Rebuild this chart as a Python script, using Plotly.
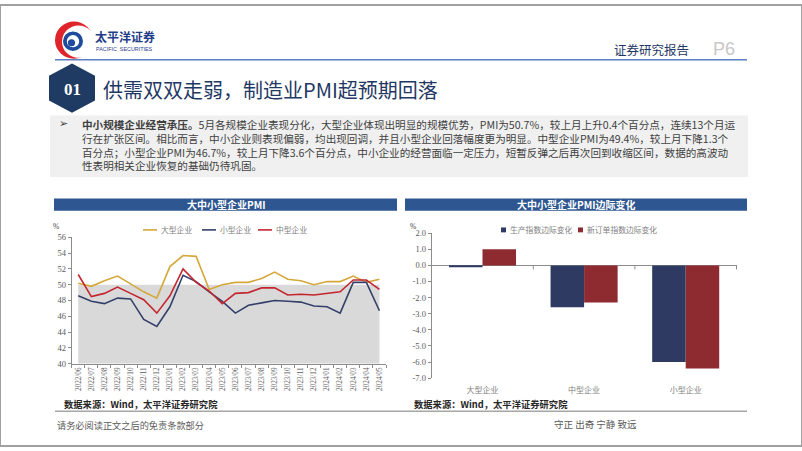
import plotly.graph_objects as go

W, H = 802, 451

def X(px):
    return px / W

def Y(py):
    return 1 - py / H

# ---------------- data ----------------
months = ["2022/06", "2022/07", "2022/08", "2022/09", "2022/10", "2022/11", "2022/12",
          "2023/01", "2023/02", "2023/03", "2023/04", "2023/05", "2023/06", "2023/07",
          "2023/08", "2023/09", "2023/10", "2023/11", "2023/12", "2024/01", "2024/02",
          "2024/03", "2024/04", "2024/05"]
large = [50.2, 49.8, 50.5, 51.1, 50.1, 49.1, 48.3, 52.3, 53.7, 53.6, 49.4, 50.0,
         50.3, 50.3, 50.8, 51.6, 50.7, 50.5, 50.0, 50.4, 50.4, 51.1, 50.3, 50.7]
small = [48.6, 47.9, 47.6, 48.3, 48.2, 45.6, 44.7, 47.2, 51.2, 50.4, 49.1, 47.9,
         46.4, 47.4, 47.7, 48.0, 47.9, 47.8, 47.3, 47.2, 46.4, 50.3, 50.3, 46.7]
medium = [51.3, 48.5, 48.9, 49.7, 48.9, 48.1, 46.4, 48.6, 52.0, 50.3, 49.2, 47.6,
          48.9, 49.0, 49.6, 49.6, 48.7, 48.8, 48.7, 48.9, 49.1, 50.6, 50.6, 49.4]
threshold = [50, 50, 50, 50, 50, 50, 50, 50, 50, 50, 50, 50,
             50, 50, 50, 50, 50, 50, 50, 50, 50, 50, 50, 50]
left_yticks = [40, 42, 44, 46, 48, 50, 52, 54, 56]

sizes = ["大型企业", "中型企业", "小型企业"]
production_chg = [-0.1, -2.6, -6.0]
new_order_chg = [1.0, -2.3, -6.4]
right_ytick_vals = [2, 1, 0, -1, -2, -3, -4, -5, -6, -7]
right_ytick_text = ["2.0", "1.0", "0.0", "-1.0", "-2.0", "-3.0", "-4.0", "-5.0", "-6.0", "-7.0"]

para_lines = [
    "<b>中小规模企业经营承压。</b>5月各规模企业表现分化，大型企业体现出明显的规模优势，PMI为50.7%，较上月上升0.4个百分点，连续13个月运",
    "行在扩张区间。相比而言，中小企业则表现偏弱，均出现回调，并且小型企业回落幅度更为明显。中型企业PMI为49.4%，较上月下降1.3个",
    "百分点；小型企业PMI为46.7%，较上月下降3.6个百分点，中小企业的经营面临一定压力，短暂反弹之后再次回到收缩区间，数据的高波动",
    "性表明相关企业恢复的基础仍待巩固。",
]

# ---------------- styles ----------------
C_LARGE = "#D4A83A"
C_SMALL = "#34406A"
C_MED = "#C42630"
C_BAR1 = "#2E3A62"
C_BAR2 = "#8E2B30"
C_BAND = "#2E5690"
C_NAVY = "#1F3864"
AX = "#8C8C8C"
TXT = "#595959"
CJK = "Noto Sans CJK SC"
SERIF = "Liberation Serif"

fig = go.Figure()

# left chart
fig.add_trace(go.Scatter(x=months, y=threshold, mode="lines", fill="tozeroy",
                         fillcolor="#D9D9D9", line=dict(width=0), showlegend=False,
                         hoverinfo="skip", xaxis="x", yaxis="y"))
for name, vals, col in [("大型企业", large, C_LARGE), ("小型企业", small, C_SMALL),
                        ("中型企业", medium, C_MED)]:
    fig.add_trace(go.Scatter(x=months, y=vals, mode="lines", name=name,
                             line=dict(color=col, width=1.6), showlegend=False,
                             xaxis="x", yaxis="y"))

# right chart
fig.add_trace(go.Bar(x=sizes, y=production_chg, name="生产指数边际变化",
                     marker=dict(color=C_BAR1, line=dict(width=0)), showlegend=False,
                     xaxis="x2", yaxis="y2"))
fig.add_trace(go.Bar(x=sizes, y=new_order_chg, name="新订单指数边际变化",
                     marker=dict(color=C_BAR2, line=dict(width=0)), showlegend=False,
                     xaxis="x2", yaxis="y2"))

shapes = []
ann = []

def rect(x0, y0, x1, y1, fill, line=None, lw=0):
    shapes.append(dict(type="rect", xref="paper", yref="paper", x0=X(x0), x1=X(x1),
                       y0=Y(y1), y1=Y(y0), fillcolor=fill,
                       line=dict(width=lw, color=line or fill), layer="below"))

def hline(x0, x1, y, color, w):
    shapes.append(dict(type="line", xref="paper", yref="paper", x0=X(x0), x1=X(x1),
                       y0=Y(y), y1=Y(y), line=dict(color=color, width=w)))

def circle(cx, cy, r, fill):
    shapes.append(dict(type="circle", xref="paper", yref="paper", x0=X(cx - r), x1=X(cx + r),
                       y0=Y(cy + r), y1=Y(cy - r), fillcolor=fill, line=dict(width=0)))

def text(x, y, s, size, color, family=CJK, xanchor="left", bold=False, yanchor="middle"):
    if bold:
        s = "<b>" + s + "</b>"
    ann.append(dict(x=X(x), y=Y(y), xref="paper", yref="paper", text=s, showarrow=False,
                    xanchor=xanchor, yanchor=yanchor, align="left",
                    font=dict(size=size, color=color, family=family)))

# slide border
shapes.append(dict(type="rect", xref="paper", yref="paper", x0=0, x1=1, y0=0, y1=1,
                   line=dict(color="#A0A0A0", width=2)))

# logo
circle(74, 36, 19, "#E0242B")
circle(78.5, 37.5, 16.5, "white")
circle(73, 37, 10, "#1F4B9C")
circle(73, 37, 6.2, "white")
circle(71.5, 38.5, 3.6, "#1F4B9C")
text(93, 32.5, "太平洋证券", 12, "#1F3C88", bold=True)
text(94, 44.5, "PACIFIC  SECURITIES", 5.4, "#1F3C88", family="Liberation Sans")

# header right
hline(55, 747, 56, "#5A7FBF", 1.6)
text(612, 45, "证券研究报告", 12.5, C_NAVY)
text(711, 45, "P6", 18, "#C8C8C8", family="Liberation Sans")

# title with hexagon
hx = [(72, 61), (94, 73), (94, 97), (72, 109), (50, 97), (50, 73)]
path = "M " + " L ".join(f"{X(a):.5f},{Y(b):.5f}" for a, b in hx) + " Z"
shapes.append(dict(type="path", xref="paper", yref="paper", path=path,
                   fillcolor="#1F3A63", line=dict(color="#1F3A63", width=2)))
text(72, 86, "01", 17, "white", family=SERIF, xanchor="center", bold=True)
text(101, 86, "供需双双走弱，制造业PMI超预期回落", 20, C_NAVY)

# paragraph box
rect(50, 113, 748, 176, "#F0F0F0")
text(57, 121, "➢", 11, "#404040", family="DejaVu Sans")
text(80, 112, "<br>".join(para_lines), 10.6, "#404040", yanchor="top")

# chart title bands
rect(54, 198, 397, 210.5, C_BAND)
rect(405, 198, 747, 210.5, C_BAND)
text(226, 204.5, "大中小型企业PMI", 10, "white", xanchor="center", bold=True)
text(576, 204.5, "大中小型企业PMI边际变化", 10, "white", xanchor="center", bold=True)

# % labels
text(56, 227, "%", 7.5, "#404040", family=SERIF, xanchor="center")
text(413, 227, "%", 7.5, "#404040", family=SERIF, xanchor="center")

# left legend
for x0, col, lab in [(143, C_LARGE, "大型企业"), (202, C_SMALL, "小型企业"), (258, C_MED, "中型企业")]:
    hline(x0, x0 + 14, 230, col, 1.6)
    text(x0 + 16, 230, lab, 7.8, "#7F7F7F")

# right legend
for x0, col, lab in [(501, C_BAR1, "生产指数边际变化"), (578, C_BAR2, "新订单指数边际变化")]:
    rect(x0, 227.5, x0 + 5, 232.5, col)
    text(x0 + 7, 230, lab, 7.8, "#7F7F7F")

# right chart zero-axis ticks at category boundaries
for b in [0.5, 1.5, 2.5]:
    shapes.append(dict(type="line", xref="x2", yref="y2", x0=b, x1=b, y0=0, y1=-4,
                       ysizemode="pixel", yanchor=0,
                       line=dict(color=AX, width=1)))

# sources & footer
text(62, 408, "数据来源：Wind，太平洋证券研究院", 9.3, "#262626", bold=True)
text(412, 408, "数据来源：Wind，太平洋证券研究院", 9.3, "#262626", bold=True)
hline(55, 747, 415.5, "#A6A6A6", 1.5)
text(55, 429.5, "请务必阅读正文之后的免责条款部分", 9.2, TXT)
text(552, 428.5, "守正 出奇 宁静 致远", 9.5, TXT)

fig.update_layout(
    width=W, height=H, margin=dict(l=0, r=0, t=0, b=0),
    paper_bgcolor="white", plot_bgcolor="rgba(0,0,0,0)",
    showlegend=False, barmode="group", bargap=0.34, bargroupgap=0,
    shapes=shapes, annotations=ann,
    xaxis=dict(domain=[X(71.7), X(386)], anchor="y", type="category",
               tickson="boundaries", ticks="outside", ticklen=3, tickcolor=AX,
               showline=True, linecolor=AX, linewidth=1, tickangle=-90,
               tickfont=dict(size=7.2, family=SERIF, color=TXT), showgrid=False,
               range=[-0.5, 23.5], fixedrange=True),
    yaxis=dict(domain=[Y(366.7), Y(237.7)], anchor="x", range=[40, 56],
               tickvals=left_yticks, ticks="outside", ticklen=3, tickcolor=AX,
               showline=True, linecolor=AX, linewidth=1, showgrid=False, zeroline=False,
               tickfont=dict(size=8.5, family=SERIF, color=TXT)),
    xaxis2=dict(domain=[X(431.7), X(737)], anchor="y2", type="category",
                showline=False, ticks="", showgrid=False, ticklabelstandoff=6,
                tickfont=dict(size=8, family=CJK, color="#7F7F7F")),
    yaxis2=dict(domain=[Y(381.7), Y(233.3)], anchor="x2", range=[-7, 2],
                tickvals=right_ytick_vals, ticktext=right_ytick_text,
                ticks="outside", ticklen=3, tickcolor=AX,
                showline=True, linecolor=AX, linewidth=1, showgrid=False,
                zeroline=True, zerolinecolor=AX, zerolinewidth=1,
                tickfont=dict(size=8.5, family=SERIF, color=TXT)),
)

fig.write_html("out.html", config={"displayModeBar": False},
               post_script="document.body.style.margin='0';document.body.style.overflow='hidden';")
